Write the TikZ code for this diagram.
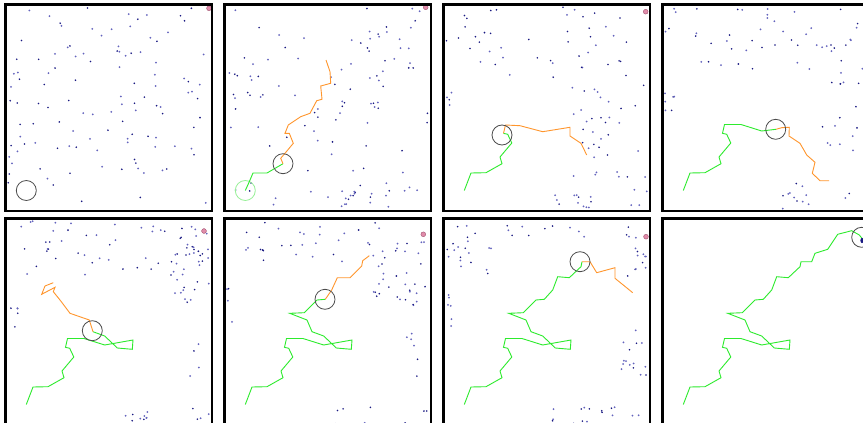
\documentclass[tikz,border=0pt]{standalone}
\definecolor{gpc}{RGB}{45,235,45}
\definecolor{opc}{RGB}{255,150,45}
\definecolor{lgc}{RGB}{150,240,150}
\definecolor{dotA}{RGB}{25,25,130}
\definecolor{dotB}{RGB}{100,100,190}
\definecolor{goalF}{RGB}{225,140,170}
\definecolor{goalD}{RGB}{160,80,110}
\newcommand\rdots[6]{%
  \pgfmathsetseed{#1}%
  \foreach \i in {1,...,#2}{%
    \pgfmathsetmacro\px{#3+rnd*(#4-#3)}%
    \pgfmathsetmacro\py{#5+rnd*(#6-#5)}%
    \pgfmathsetmacro\pc{rnd}%
    \ifdim\pc pt<0.45pt
      \fill[dotA] (\px,\py) circle (0.9);
    \else
      \fill[dotB] (\px,\py) circle (1.0);
    \fi
  }}
\tikzset{
  frame/.style={draw=black, line width=2.6pt},
  gpath/.style={draw=gpc, line width=0.9pt, line join=miter},
  opath/.style={draw=opc, line width=0.9pt, line join=miter},
  robot/.style={draw=black!70, line width=0.8pt},
  startc/.style={draw=lgc, line width=0.8pt},
  goal/.style={fill=goalF, draw=goalD, line width=0.4pt},
}
\begin{document}
\begin{tikzpicture}[x=1pt,y=-1pt]
\useasboundingbox (0,0) rectangle (863,423);
\fill[white] (0,0) rectangle (863,423);
\clip (0,0) rectangle (863,423);

% ---------- Panel 1 ----------
\begin{scope}[shift={(4,3)}]
  \rdots{11}{115}{4}{205}{4}{205}
  \draw[robot] (22.3,187.5) circle (10);
  \draw[goal] (205,5.3) circle (2.4);
  \draw[frame] (1.5,1.5) rectangle (208,208);
\end{scope}

% ---------- Panel 2 ----------
\begin{scope}[shift={(223,3)}]
  \rdots{21}{105}{4}{205}{4}{205}
  \rdots{22}{12}{120}{152}{188}{205}
  \draw[startc] (22.3,187.5) circle (10);
  \draw[gpath] (22.3,187.5) -- (26.3,178.7) -- (30,170) -- (44,170) -- (60,160.7);
  \draw[opath] (60,160.7) -- (57.7,155.3) -- (62,150.3) -- (70.3,140.3) -- (66.3,130.3) -- (62,130.3) -- (65.3,122) -- (77.7,113.7) -- (87,110.3) -- (93.7,97.7) -- (99,96.3) -- (97.7,83) -- (107.7,80.3) -- (107,68.7) -- (103,57);
  \draw[robot] (60,160.7) circle (10);
  \draw[goal] (202.7,4.3) circle (2.4);
  \draw[frame] (1.5,1.5) rectangle (208,208);
\end{scope}

% ---------- Panel 3 ----------
\begin{scope}[shift={(442,3)}]
  \rdots{31}{45}{4}{205}{4}{80}
  \rdots{32}{35}{130}{205}{80}{180}
  \rdots{33}{12}{112}{150}{188}{206}
  \rdots{34}{4}{3}{10}{78}{112}
  \rdots{35}{4}{180}{205}{185}{206}
  \draw[gpath] (22.3,187.5) -- (29,170) -- (44,169.7) -- (60,160.7) -- (58,154) -- (69.8,140) -- (65.7,131.3) -- (61.5,130.3);
  \draw[opath] (61.5,130.3) -- (63.5,122) -- (78,122.7) -- (100.7,128.7) -- (128,124.3) -- (128,133) -- (139,140.3) -- (144.7,152);
  \draw[robot] (60,132) circle (10);
  \draw[goal] (203.7,8.7) circle (2.4);
  \draw[frame] (1.5,1.5) rectangle (208,208);
\end{scope}

% ---------- Panel 4 ----------
\begin{scope}[shift={(661,3)}]
  \rdots{41}{42}{4}{205}{4}{68}
  \rdots{42}{25}{160}{205}{40}{160}
  \rdots{43}{11}{112}{150}{180}{206}
  \rdots{44}{6}{3}{15}{75}{110}
  \rdots{45}{3}{180}{205}{190}{206}
  \draw[gpath] (22.3,187.5) -- (29,170) -- (44,169.7) -- (60,160.7) -- (58,154) -- (69.8,140) -- (65.7,131.3) -- (61.5,130.3) -- (63.5,121.5) -- (80,121.5) -- (100.7,128) -- (115,126.3);
  \draw[opath] (115,126.3) -- (120.7,124.7) -- (128.3,124.3) -- (128,133) -- (139,140.3) -- (145.7,152) -- (154,159.3) -- (151.3,170.3) -- (159,177.7) -- (168,177.7);
  \draw[robot] (114.7,126.3) circle (10);
  \draw[frame] (1.5,1.5) rectangle (208,208);
\end{scope}

% ---------- Panel 5 ----------
\begin{scope}[shift={(4,217)}]
  \rdots{51}{55}{4}{205}{4}{58}
  \rdots{52}{25}{165}{205}{30}{90}
  \rdots{53}{5}{3}{15}{70}{110}
  \rdots{54}{4}{180}{205}{120}{160}
  \rdots{55}{10}{110}{150}{195}{210}
  \rdots{56}{4}{180}{205}{190}{210}
  \draw[gpath] (22.3,187.5) -- (29,170) -- (44,169.7) -- (60,160.7) -- (58,154) -- (69.8,140) -- (65.7,131.3) -- (61.5,130.3) -- (63.5,121.5) -- (80,121.5) -- (100.7,128) -- (129,123) -- (128.3,132.3) -- (113.3,131) -- (100.7,119) -- (89,114.7);
  \draw[opath] (89,114.7) -- (85.3,103) -- (66,96.3) -- (56,83) -- (49.3,74.7) -- (51,70.3) -- (37.7,77.3) -- (41,69) -- (49.3,65.7);
  \draw[robot] (88.3,113.7) circle (10);
  \draw[goal] (200,14) circle (2.4);
  \draw[frame] (1.5,1.5) rectangle (208,208);
\end{scope}

% ---------- Panel 6 ----------
\begin{scope}[shift={(223,217)}]
  \rdots{61}{30}{4}{160}{4}{45}
  \rdots{62}{35}{150}{205}{20}{90}
  \rdots{63}{4}{3}{10}{70}{110}
  \rdots{64}{6}{180}{205}{115}{160}
  \rdots{65}{8}{110}{150}{190}{210}
  \rdots{66}{4}{180}{205}{190}{210}
  \draw[gpath] (22.3,187.5) -- (29,170) -- (44,169.7) -- (60,160.7) -- (58,154) -- (69.8,140) -- (65.7,131.3) -- (61.5,130.3) -- (63.5,121.5) -- (80,121.5) -- (100.7,128) -- (129,123) -- (128.3,132.3) -- (113.3,131) -- (100.7,119) -- (89,114.7) -- (84,103) -- (66.7,96.3) -- (81.3,95.7) -- (94,83) -- (102.3,82.3);
  \draw[opath] (102.3,82.3) -- (108.7,73) -- (114.3,60.7) -- (127,60.7) -- (138.7,49) -- (139.7,43.7) -- (146.3,38.7);
  \draw[robot] (102,82.3) circle (10);
  \draw[goal] (200.3,17.3) circle (2.4);
  \draw[frame] (1.5,1.5) rectangle (208,208);
\end{scope}

% ---------- Panel 7 ----------
\begin{scope}[shift={(442,217)}]
  \rdots{71}{20}{3}{50}{3}{60}
  \rdots{72}{10}{50}{180}{3}{20}
  \rdots{73}{15}{180}{205}{10}{60}
  \rdots{74}{6}{3}{10}{70}{110}
  \rdots{75}{15}{175}{205}{110}{160}
  \rdots{76}{20}{110}{205}{190}{210}
  \draw[gpath] (22.3,187.5) -- (29,170) -- (44,169.7) -- (60,160.7) -- (58,154) -- (69.8,140) -- (65.7,131.3) -- (61.5,130.3) -- (63.5,121.5) -- (80,121.5) -- (100.7,128) -- (129,123) -- (128.3,132.3) -- (113.3,131) -- (100.7,119) -- (89,114.7) -- (84,103) -- (66.7,96.3) -- (81.3,95.7) -- (94,83) -- (102.3,82.3) -- (110.7,73) -- (115.7,59.7) -- (127.3,60.7) -- (139,49.7) -- (140,44.7);
  \draw[opath] (140,44.7) -- (148,44.7) -- (154.7,55.7) -- (173,50.7) -- (173,61.3) -- (190.7,75.7);
  \draw[robot] (138,44.7) circle (10);
  \draw[goal] (204,19.7) circle (2.4);
  \draw[frame] (1.5,1.5) rectangle (208,208);
\end{scope}

% ---------- Panel 8 ----------
\begin{scope}[shift={(661,217)}]
  \draw[gpath] (22.3,187.5) -- (29,170) -- (44,169.7) -- (60,160.7) -- (58,154) -- (69.8,140) -- (65.7,131.3) -- (61.5,130.3) -- (63.5,121.5) -- (80,121.5) -- (100.7,128) -- (129,123) -- (128.3,132.3) -- (113.3,131) -- (100.7,119) -- (89,114.7) -- (84,103) -- (66.7,96.3) -- (81.3,95.7) -- (94,83) -- (102.3,82.3) -- (110.7,73) -- (115.7,59.7) -- (127.3,60.7) -- (139,49.7) -- (140,44.7) -- (150.7,44.7) -- (154,36.3) -- (166.7,32.3) -- (176.7,17.3) -- (190.7,13.7) -- (198.3,18) -- (202.3,23);
  \fill[dotA] (201,23.5) ellipse (1.6 and 2.6);
  \draw[robot] (200.7,20.3) circle (10);
  \draw[frame] (1.5,1.5) rectangle (208,208);
\end{scope}
\end{tikzpicture}
\end{document}
